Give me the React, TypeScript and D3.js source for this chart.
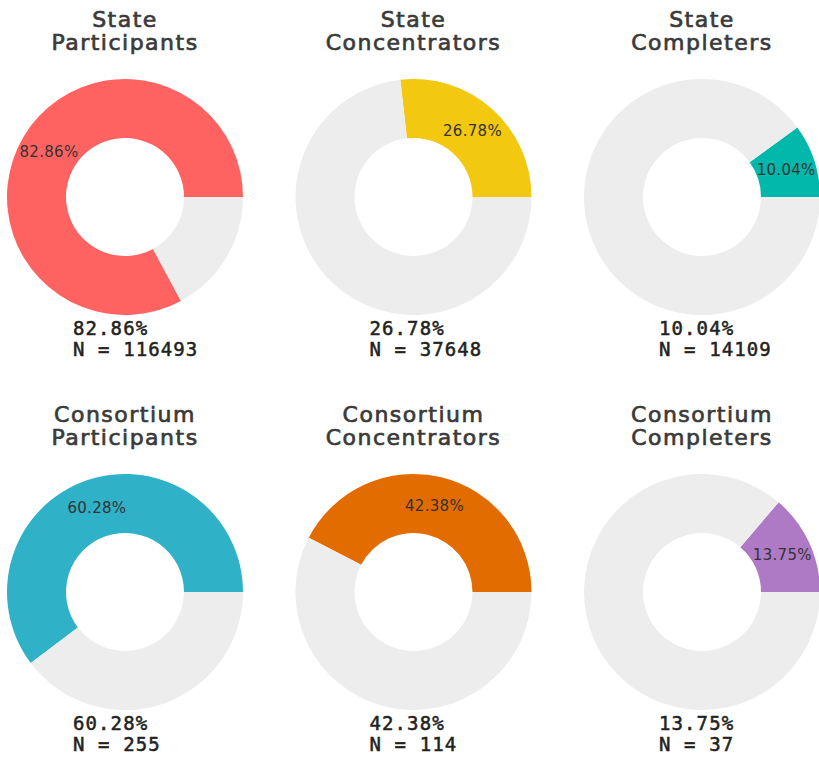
import * as d3 from 'd3';

// six donuts, read left-to-right, top-to-bottom
const groups = ['State', 'State', 'State', 'Consortium', 'Consortium', 'Consortium'];
const stages = ['Participants', 'Concentrators', 'Completers', 'Participants', 'Concentrators', 'Completers'];
const percents = [82.86, 26.78, 10.04, 60.28, 42.38, 13.75];
const counts = [116493, 37648, 14109, 255, 114, 37];
const colors = ['#FF6361', '#F2C811', '#01B8AA', '#2FB1C7', '#E36C00', '#AF7AC5'];
const restColor = '#EDEDED';

const W = 819;
const H = 764;

const App = () => {
    const colX = d3.scalePoint<number>().domain([0, 1, 2]).range([125, 702]);
    const rowY = d3.scalePoint<number>().domain([0, 1]).range([197, 592]);
    // bottom label left offsets per column
    const labelOffset = [-52, -44, -43];

    const outerR = 118;
    const innerR = 59;

    const pie = d3.pie<number>()
        .sort(null)
        .startAngle(Math.PI / 2)
        .endAngle(Math.PI / 2 - 2 * Math.PI);

    const arc = d3.arc<d3.PieArcDatum<number>>()
        .innerRadius(innerR)
        .outerRadius(outerR);

    const titleStyle = {
        fontFamily: 'DejaVu Sans', fontWeight: 400, fontSize: 22, fill: '#3a3a3a',
        stroke: '#3a3a3a', strokeWidth: 0.7, letterSpacing: 1.5
    };
    const monoStyle = {
        fontFamily: 'DejaVu Sans Mono', fontWeight: 400, fontSize: 19, fill: '#222',
        stroke: '#222', strokeWidth: 0.5, letterSpacing: 1.1
    };

    return (
        <svg width={W} height={H} style={{ position: 'absolute', left: 0, top: 0, background: '#fff' }}>
            {percents.map((p, i) => {
                const col = i % 3;
                const row = Math.floor(i / 3);
                const cx = colX(col) as number;
                const cy = rowY(row) as number;
                const slices = pie([p, 100 - p]);
                const c = arc.centroid(slices[0]);
                const lx = cx + labelOffset[col];
                return (
                    <g key={i}>
                        <text x={cx} y={cy - 170} textAnchor='middle' style={titleStyle}>{groups[i]}</text>
                        <text x={cx} y={cy - 147} textAnchor='middle' style={titleStyle}>{stages[i]}</text>
                        <g transform={`translate(${cx},${cy})`}>
                            {slices.map((s, j) => (
                                <path key={j} d={arc(s) as string} fill={j === 0 ? colors[i] : restColor} />
                            ))}
                            <text
                                x={c[0]}
                                y={c[1]}
                                textAnchor='middle'
                                dominantBaseline='central'
                                style={{ fontFamily: 'DejaVu Sans', fontSize: 15, fill: '#333', letterSpacing: 0.3 }}
                            >
                                {p.toFixed(2)}%
                            </text>
                        </g>
                        <text x={lx} y={cy + 138} style={monoStyle}>{p.toFixed(2)}%</text>
                        <text x={lx} y={cy + 159} style={monoStyle}>N = {counts[i]}</text>
                    </g>
                );
            })}
        </svg>
    );
};

export default App;
